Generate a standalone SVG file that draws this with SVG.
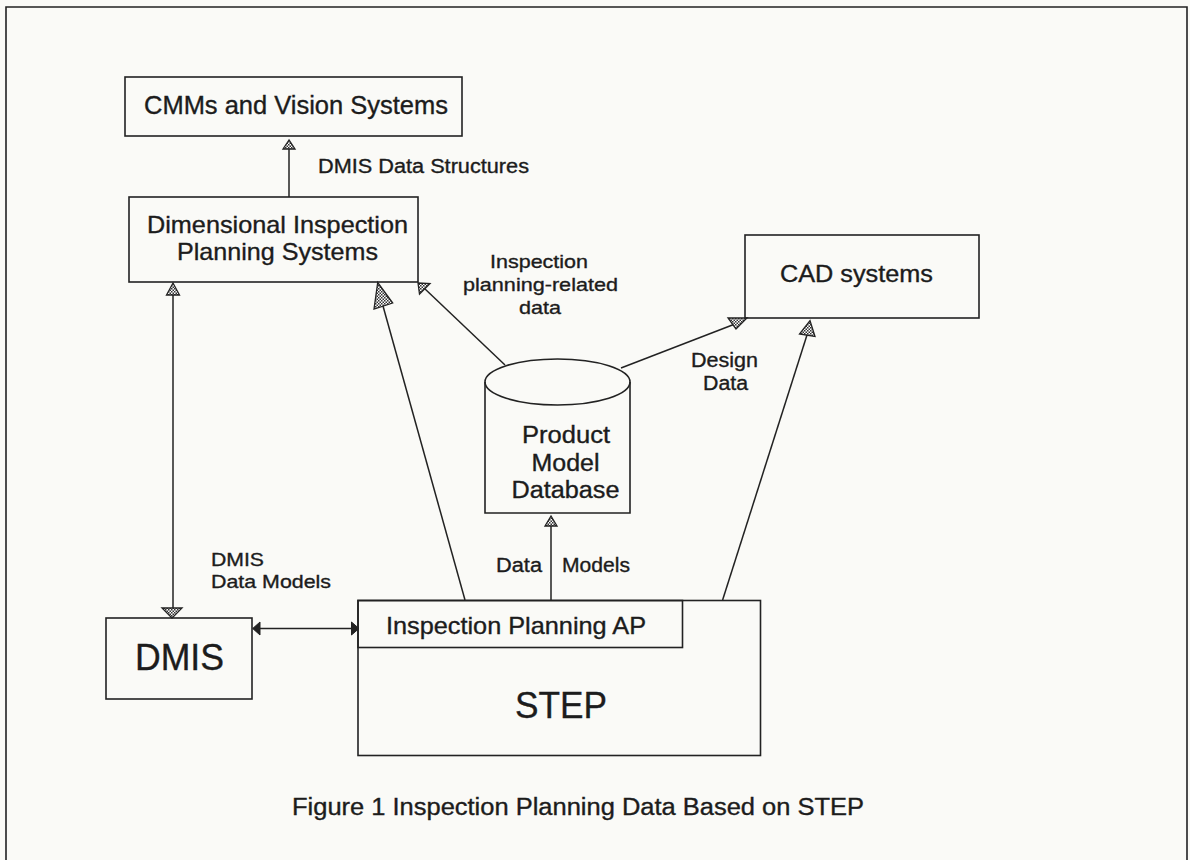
<svg xmlns="http://www.w3.org/2000/svg" width="1190" height="860" viewBox="0 0 1190 860">
<style>
.box{fill:none;stroke:#222;stroke-width:1.6}
.ln{fill:none;stroke:#222;stroke-width:1.5}
.hd{fill:url(#hatch);stroke:#222;stroke-width:1.3;stroke-linejoin:miter}
.fh{fill:#222;stroke:#222;stroke-width:1}
text{font-family:"Liberation Sans",Arial,Helvetica,sans-serif;fill:#1c1c1c;stroke:#1c1c1c;stroke-width:0.35}
</style>
<defs>
<pattern id="hatch" width="3" height="3" patternUnits="userSpaceOnUse">
<rect width="3" height="3" fill="#fff"/>
<rect width="1.5" height="1.5" fill="#333"/>
<rect x="1.5" y="1.5" width="1.5" height="1.5" fill="#333"/>
</pattern>
</defs>
<rect width="1190" height="860" fill="#fafaf7"/>
<path id="frame" d="M6,860 V7 H1187 V860" fill="none" stroke="#222" stroke-width="1.6"/>

<g id="cmms">
<rect class="box" x="125" y="77" width="337" height="59"/>
<text x="144" y="114" font-size="25" textLength="304" lengthAdjust="spacingAndGlyphs">CMMs and Vision Systems</text>
</g>
<g id="dips">
<rect class="box" x="129" y="197" width="289" height="85"/>
<text x="147" y="233" font-size="24" textLength="261" lengthAdjust="spacingAndGlyphs">Dimensional Inspection</text>
<text x="177" y="260" font-size="24" textLength="201" lengthAdjust="spacingAndGlyphs">Planning Systems</text>
</g>
<g id="cad">
<rect class="box" x="745" y="235" width="234" height="83"/>
<text x="780" y="282" font-size="23" textLength="153" lengthAdjust="spacingAndGlyphs">CAD systems</text>
</g>
<g id="pmdb">
<path class="box" d="M485,382 V513 H630 V382"/>
<ellipse class="box" cx="557.5" cy="382" rx="72.5" ry="23"/>
<text x="522" y="443" font-size="23" textLength="88" lengthAdjust="spacingAndGlyphs">Product</text>
<text x="531.5" y="471" font-size="23" textLength="68" lengthAdjust="spacingAndGlyphs">Model</text>
<text x="511.5" y="498" font-size="23" textLength="108" lengthAdjust="spacingAndGlyphs">Database</text>
</g>
<g id="dmis">
<rect class="box" x="106" y="618" width="146" height="81"/>
<text x="135" y="670" font-size="36" textLength="89" lengthAdjust="spacingAndGlyphs">DMIS</text>
</g>
<g id="step">
<rect class="box" x="358" y="600.5" width="402.5" height="155"/>
<rect class="box" x="358" y="600.5" width="324.5" height="47"/>
<text x="386" y="634" font-size="24" textLength="260" lengthAdjust="spacingAndGlyphs">Inspection Planning AP</text>
<text x="515" y="718" font-size="37" textLength="92" lengthAdjust="spacingAndGlyphs">STEP</text>
</g>

<g id="connectors">
<line class="ln" x1="289" y1="197" x2="289" y2="149"/>
<polygon class="hd" points="289,140 283,149 295,149"/>

<line class="ln" x1="173" y1="295" x2="173" y2="608"/>
<polygon class="hd" points="173,283 166.5,295 179.5,295"/>
<polygon class="hd" points="162,608 182,608 172,618"/>

<line class="ln" x1="465" y1="600" x2="383" y2="306"/>
<polygon class="hd" points="377.7,282.5 374,309 392.7,303"/>

<line class="ln" x1="505" y1="365" x2="424" y2="288"/>
<polygon class="hd" points="418,283 430,283.5 419.5,294"/>

<line class="ln" x1="621" y1="368" x2="735" y2="324"/>
<polygon class="hd" points="728,318 747,318 736,329"/>

<line class="ln" x1="722.6" y1="600" x2="807" y2="335"/>
<polygon class="hd" points="810,320.7 799.5,334 815,336.5"/>

<line class="ln" x1="551" y1="600" x2="551" y2="526"/>
<polygon class="hd" points="551,516 545,526 557,526"/>

<line class="ln" x1="258" y1="628.5" x2="353" y2="628.5"/>
<polygon class="fh" points="252.7,628.5 260,622 260,635"/>
<polygon class="fh" points="359,628.5 351.5,622 351.5,635"/>
</g>

<g id="labels">
<text x="318" y="173" font-size="19.5" textLength="211" lengthAdjust="spacingAndGlyphs">DMIS Data Structures</text>
<text x="490" y="268" font-size="19" textLength="98" lengthAdjust="spacingAndGlyphs">Inspection</text>
<text x="463" y="291" font-size="19" textLength="155" lengthAdjust="spacingAndGlyphs">planning-related</text>
<text x="519" y="314" font-size="19" textLength="42" lengthAdjust="spacingAndGlyphs">data</text>
<text x="691" y="367" font-size="19.5" textLength="67" lengthAdjust="spacingAndGlyphs">Design</text>
<text x="703" y="390" font-size="19.5" textLength="45" lengthAdjust="spacingAndGlyphs">Data</text>
<text x="496" y="572" font-size="20" textLength="46" lengthAdjust="spacingAndGlyphs">Data</text>
<text x="562" y="572" font-size="20" textLength="68" lengthAdjust="spacingAndGlyphs">Models</text>
<text x="211" y="566" font-size="19" textLength="53" lengthAdjust="spacingAndGlyphs">DMIS</text>
<text x="211" y="588" font-size="19" textLength="120" lengthAdjust="spacingAndGlyphs">Data Models</text>
<text x="292" y="815" font-size="23" textLength="572" lengthAdjust="spacingAndGlyphs">Figure 1 Inspection Planning Data Based on STEP</text>
</g>
</svg>
